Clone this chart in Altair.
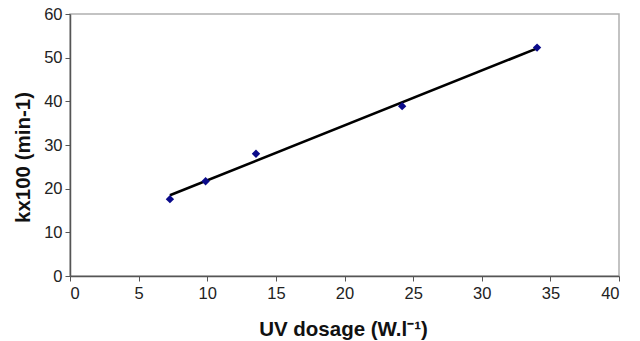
import altair as alt
import pandas as pd

uv_dosage = [7.28, 9.88, 13.55, 24.2, 34.03]
k_x100 = [17.6, 21.7, 28.0, 38.9, 52.3]

x_ticks = [0, 5, 10, 15, 20, 25, 30, 35, 40]
y_ticks = [0, 10, 20, 30, 40, 50, 60]

df = pd.DataFrame({"uv": uv_dosage, "k": k_x100})

FONT = "Liberation Sans"

x_enc = alt.X(
    "uv:Q",
    scale=alt.Scale(domain=[0, 40], nice=False, zero=False),
    axis=alt.Axis(
        values=x_ticks,
        title="UV dosage (W.l⁻¹)",
        titleFont=FONT, titleFontSize=20.5, titleFontWeight="bold", titleColor="#111111",
        titleX=273, titleY=59, titleBaseline="alphabetic", titleAnchor=None,
        labelFont=FONT, labelFontSize=16.5, labelColor="#222222", labelPadding=4,
        tickSize=5, tickColor="#555555", domainColor="#555555", domainWidth=1.5,
        grid=False,
    ),
)
y_enc = alt.Y(
    "k:Q",
    scale=alt.Scale(domain=[0, 60], nice=False, zero=True),
    axis=alt.Axis(
        values=y_ticks,
        title="kx100 (min-1)",
        titleFont=FONT, titleFontSize=20.5, titleFontWeight="bold", titleColor="#111111",
        titleX=-47, titleY=143, titleBaseline="middle", titleAngle=270,
        labelFont=FONT, labelFontSize=16.5, labelColor="#222222", labelPadding=3,
        tickSize=5, tickColor="#555555", domainColor="#555555", domainWidth=1.5,
        grid=False,
    ),
)

base = alt.Chart(df)

trend = base.transform_regression("uv", "k").mark_line(
    color="#000000", strokeWidth=2.6
).encode(x=x_enc, y=y_enc)

points = base.mark_point(
    shape="diamond", filled=True, size=70, color="#0a0a8a", opacity=1
).encode(x=x_enc, y=y_enc)

chart = (
    alt.layer(trend, points)
    .properties(
        width=549,
        height=262,
        autosize=alt.AutoSizeParams(type="none"),
        padding={"left": 70, "top": 14, "right": 21, "bottom": 65},
        background="white",
    )
    .configure_view(stroke="#b0b0b0", strokeWidth=1.5)
)

chart.save("out.html", embed_options={"renderer": "svg", "actions": False})
